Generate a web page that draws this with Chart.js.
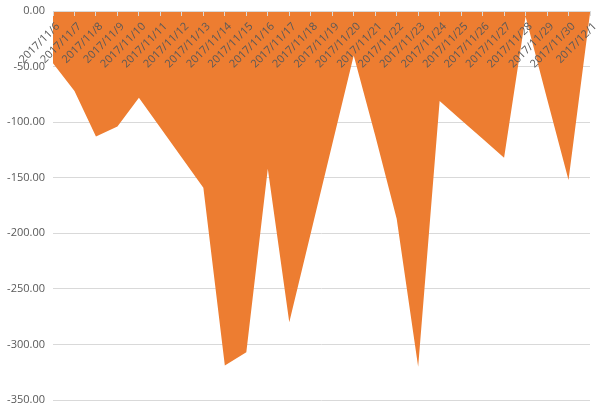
<!DOCTYPE html>
<html>
<head>
<meta charset="utf-8">
<script src="https://cdn.jsdelivr.net/npm/chart.js@4/dist/chart.umd.min.js"></script>
<style>
    html, body { margin: 0; padding: 0; background: #fff; }
    #wrap { width: 608px; height: 411px; position: relative; }
</style>
</head>
<body>
<div id="wrap"><canvas id="area-chart"></canvas></div>
<script>
// daily values, 2017/11/6 .. 2017/12/1
const dates = [
    '2017/11/6', '2017/11/7', '2017/11/8', '2017/11/9', '2017/11/10',
    '2017/11/11', '2017/11/12', '2017/11/13', '2017/11/14', '2017/11/15',
    '2017/11/16', '2017/11/17', '2017/11/18', '2017/11/19', '2017/11/20',
    '2017/11/21', '2017/11/22', '2017/11/23', '2017/11/24', '2017/11/25',
    '2017/11/26', '2017/11/27', '2017/11/28', '2017/11/29', '2017/11/30',
    '2017/12/1'
];
const values = [
    -47, -72, -113, -104, -78,
    -105, -132, -159, -319, -307,
    -142, -280, -200, -120, -40,
    -112, -187, -320, -81, -98,
    -115, -132, -5, -79, -152,
    -2
];
const yTicks = [0, -50, -100, -150, -200, -250, -300, -350];

const ctx = document.getElementById('area-chart').getContext('2d');

new Chart(ctx, {
    type: 'line',
    data: {
        labels: dates,
        datasets: [{
            data: values,
            fill: 'origin',
            backgroundColor: '#ED7D31',
            borderWidth: 0,
            pointRadius: 0,
            tension: 0
        }]
    },
    options: {
        responsive: true,
        maintainAspectRatio: false,
        animation: false,
        layout: { padding: { top: 11, right: 18, bottom: 11, left: 0 } },
        plugins: {
            legend: { display: false },
            tooltip: { enabled: false }
        },
        scales: {
            x: {
                // axis sits on the zero line, which is the top of the plot;
                // labels are drawn over the area like in the original
                position: { y: 0 },
                offset: false,
                afterFit: scale => {
                    scale.paddingTop = 0;
                    scale.paddingBottom = 0;
                },
                grid: {
                    drawOnChartArea: false,
                    drawTicks: true,
                    tickLength: 4,
                    color: '#d9d9d9',
                    z: 1
                },
                border: { display: true, color: '#d9d9d9', z: 1 },
                ticks: {
                    autoSkip: false,
                    minRotation: 45,
                    maxRotation: 45,
                    padding: 5,
                    labelOffset: 5,
                    color: '#595959',
                    font: { family: 'Open Sans', size: 11 },
                    z: 1
                }
            },
            y: {
                min: Math.min(...yTicks),
                max: Math.max(...yTicks),
                afterFit: scale => {
                    scale.width = 53;
                    scale.paddingTop = 0;
                    scale.paddingBottom = 0;
                },
                afterBuildTicks: scale => {
                    scale.ticks = yTicks.map(v => ({ value: v }));
                },
                grid: { color: '#d9d9d9', drawTicks: false },
                border: { display: false },
                ticks: {
                    padding: 8,
                    color: '#595959',
                    font: { family: 'Open Sans', size: 11 },
                    callback: v => Number(v).toFixed(2)
                }
            }
        }
    }
});
</script>
</body>
</html>
